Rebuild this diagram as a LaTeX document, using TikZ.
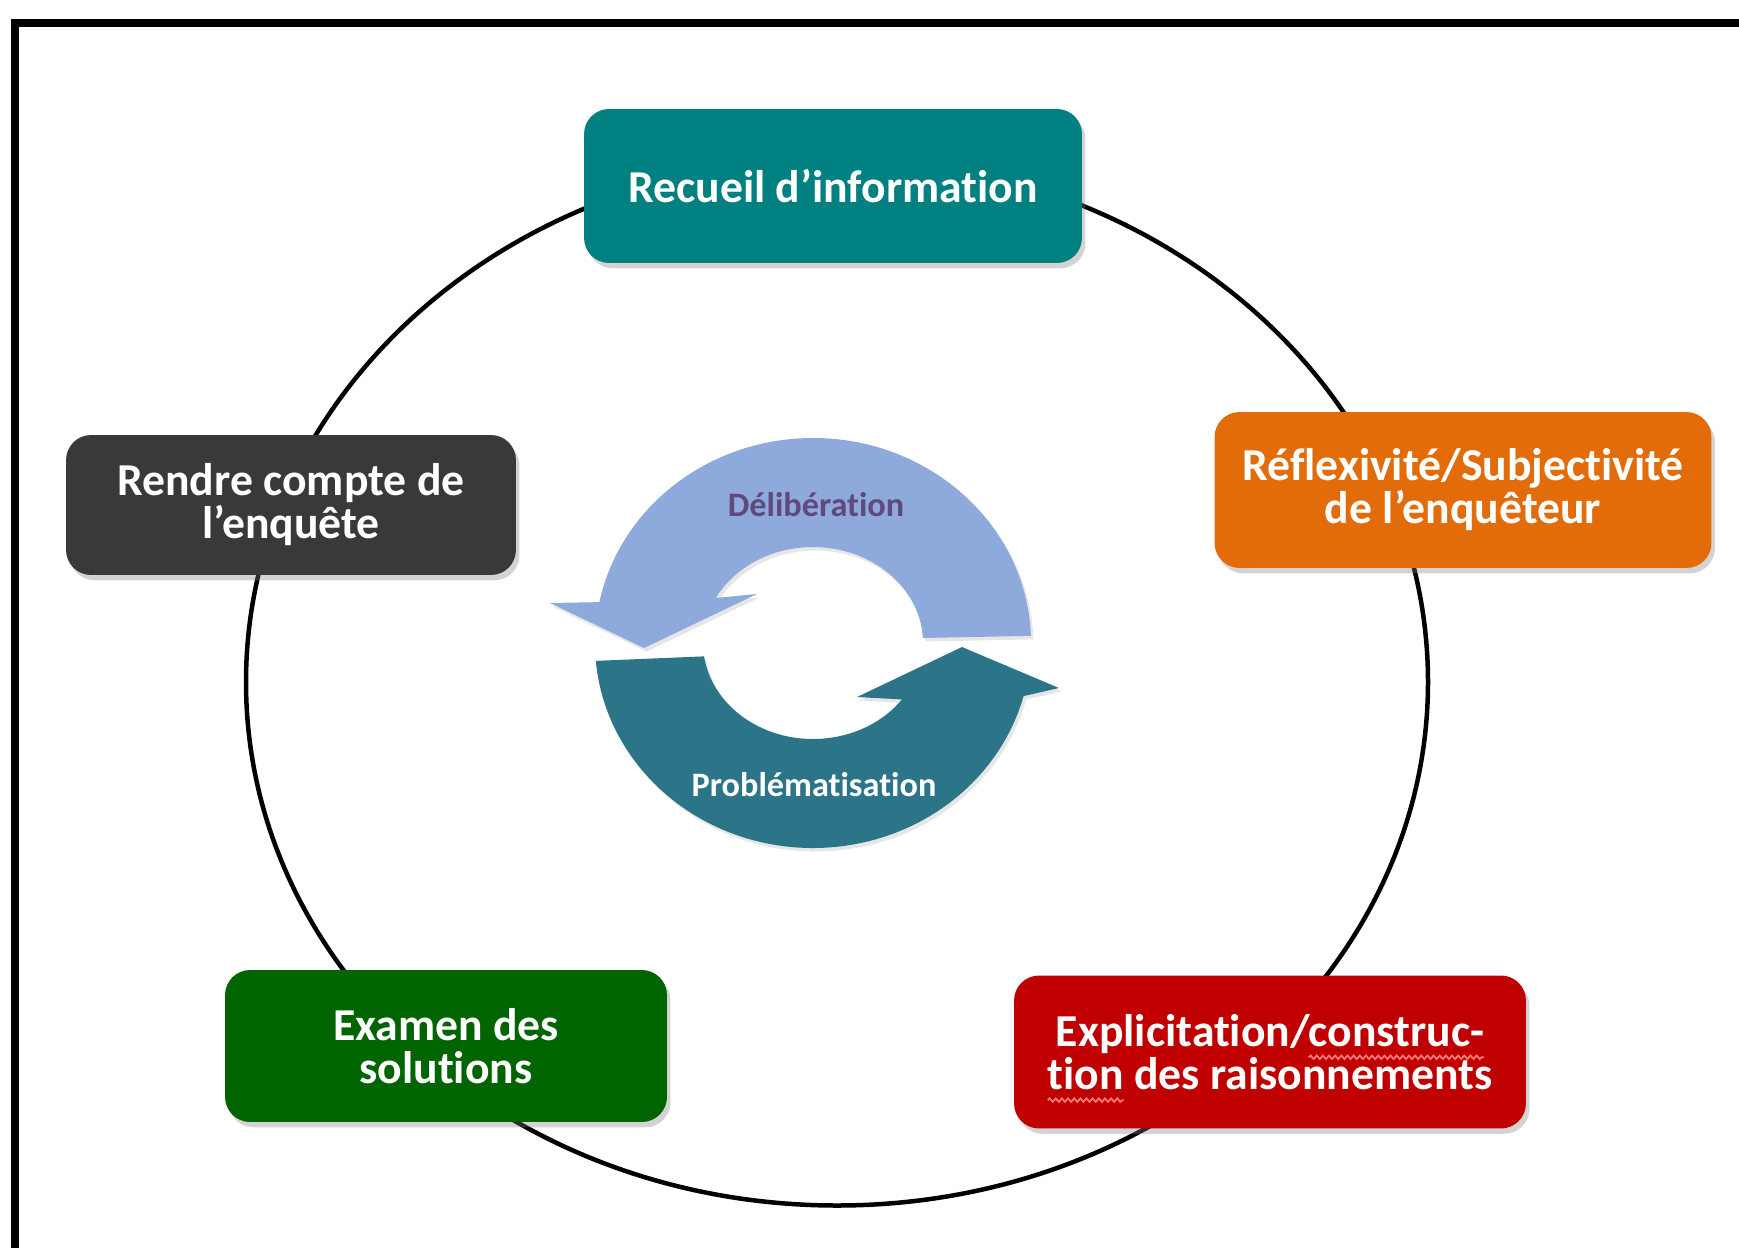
\documentclass[tikz,border=0pt]{standalone}
\usepackage{fontspec}
\setmainfont{Carlito}[Ligatures=NoCommon]
\usetikzlibrary{shadows, positioning, calc, decorations.pathmorphing}

\definecolor{recueilcol}{RGB}{0,128,128}
\definecolor{reflexcol}{RGB}{227,108,10}
\definecolor{explicol}{RGB}{192,0,0}
\definecolor{examencol}{RGB}{0,100,0}
\definecolor{rendrecol}{RGB}{59,57,56}
\definecolor{delibcol}{RGB}{142,169,219}
\definecolor{problemcol}{RGB}{44,117,137}
\definecolor{delibtext}{RGB}{96,74,123}
\definecolor{wavecol}{RGB}{255,120,120}

\newcommand{\stagefont}{\fontsize{26}{24.5}\selectfont\bfseries}
% widths for the spell checker underline
\newdimen\explione
\newdimen\explicons
\newdimen\explitwo
\newdimen\explition
\AtBeginDocument{%
    \settowidth{\explione}{\stagefont Explicitation/construc-}%
    \settowidth{\explicons}{\stagefont construc-}%
    \settowidth{\explitwo}{\stagefont tion des raisonnements}%
    \settowidth{\explition}{\stagefont tion}}

\begin{document}
\begin{tikzpicture}[x=0.02cm, y=-0.02cm,
    stage/.style={rounded corners=0.5cm, text=white, align=center,
        font=\stagefont, inner sep=0pt,
        minimum height=3.06cm,
        drop shadow={shadow xshift=2pt, shadow yshift=-3pt, opacity=0.35}},
    cyclearrow/.style={drop shadow={shadow xshift=1.5pt, shadow yshift=-2pt, opacity=0.2}},
    arrowlabel/.style={font=\fontsize{19.5}{22}\selectfont\bfseries},
    spellwave/.style={draw=wavecol, line width=1pt, decorate,
        decoration={snake, amplitude=1pt, segment length=3.5pt}}]
    \useasboundingbox (0,0) rectangle (1739,1248);

    % Frame
    \draw[line width=0.16cm] (15,1260) -- (15,23) -- (1750,23);

    % Cycle behind the stages
    \coordinate (cyc) at (837,682);
    \draw[line width=0.09cm] (cyc) ellipse [x radius=591, y radius=523.5];

    % Stages of the inquiry
    \node[stage, fill=recueilcol, minimum width=9.96cm, minimum height=3.08cm] (recueil) at (833,186) {Recueil d’information};
    \node[stage, fill=reflexcol, minimum width=9.94cm, minimum height=3.12cm] (reflex) at (1463,490) {Réflexivité/Subjectivité\\de l’enquêteur};
    \node[stage, fill=explicol, minimum width=10.24cm] (expli) at (1270,1052) {Explicitation/construc-\\tion des raisonnements};
    \node[stage, fill=examencol, minimum width=8.84cm, minimum height=3.04cm] (examen) at (446,1046) {Examen des\\solutions};
    \node[stage, fill=rendrecol, minimum width=9cm, minimum height=2.8cm] (rendre) at (291,505) {Rendre compte de\\l’enquête};

    % Spell checker marks under construc-tion
    \coordinate (consa) at ([xshift=0.5\explione-\explicons, yshift=-3pt]expli.center);
    \coordinate (consb) at ([xshift=0.5\explione, yshift=-3pt]expli.center);
    \coordinate (tiona) at ([xshift=-0.5\explitwo, yshift=-27.4pt]expli.center);
    \coordinate (tionb) at ([xshift=-0.5\explitwo+\explition, yshift=-27.4pt]expli.center);
    \draw[spellwave] (consa) -- (consb);
    \draw[spellwave] (tiona) -- (tionb);

    % Circular arrows in the middle
    \coordinate (hub) at (813,643);
    \fill[delibcol, cyclearrow] ($(hub)+({218*cos(-2)},{205*sin(-2)})$)
        arc[start angle=-2, end angle=-168.5, x radius=218, y radius=205]
        -- (550,603) -- (644,648) -- (757,594) -- ($(hub)+({110*cos(-152)},{96*sin(-152)})$)
        arc[start angle=-152, end angle=-3, x radius=110, y radius=96] -- cycle;
    \fill[problemcol, cyclearrow] ($(hub)+({218*cos(175)},{205*sin(175)})$)
        arc[start angle=175, end angle=15, x radius=218, y radius=205]
        -- (1059,688) -- (962,647) -- (857,697) -- ($(hub)+({110*cos(36)},{96*sin(36)})$)
        arc[start angle=36, end angle=172, x radius=110, y radius=96] -- cycle;

    \node[arrowlabel, text=delibtext] (delib) at (816,505) {Délibération};
    \node[arrowlabel, text=white] (problem) at (814,785) {Problématisation};
\end{tikzpicture}
\end{document}
